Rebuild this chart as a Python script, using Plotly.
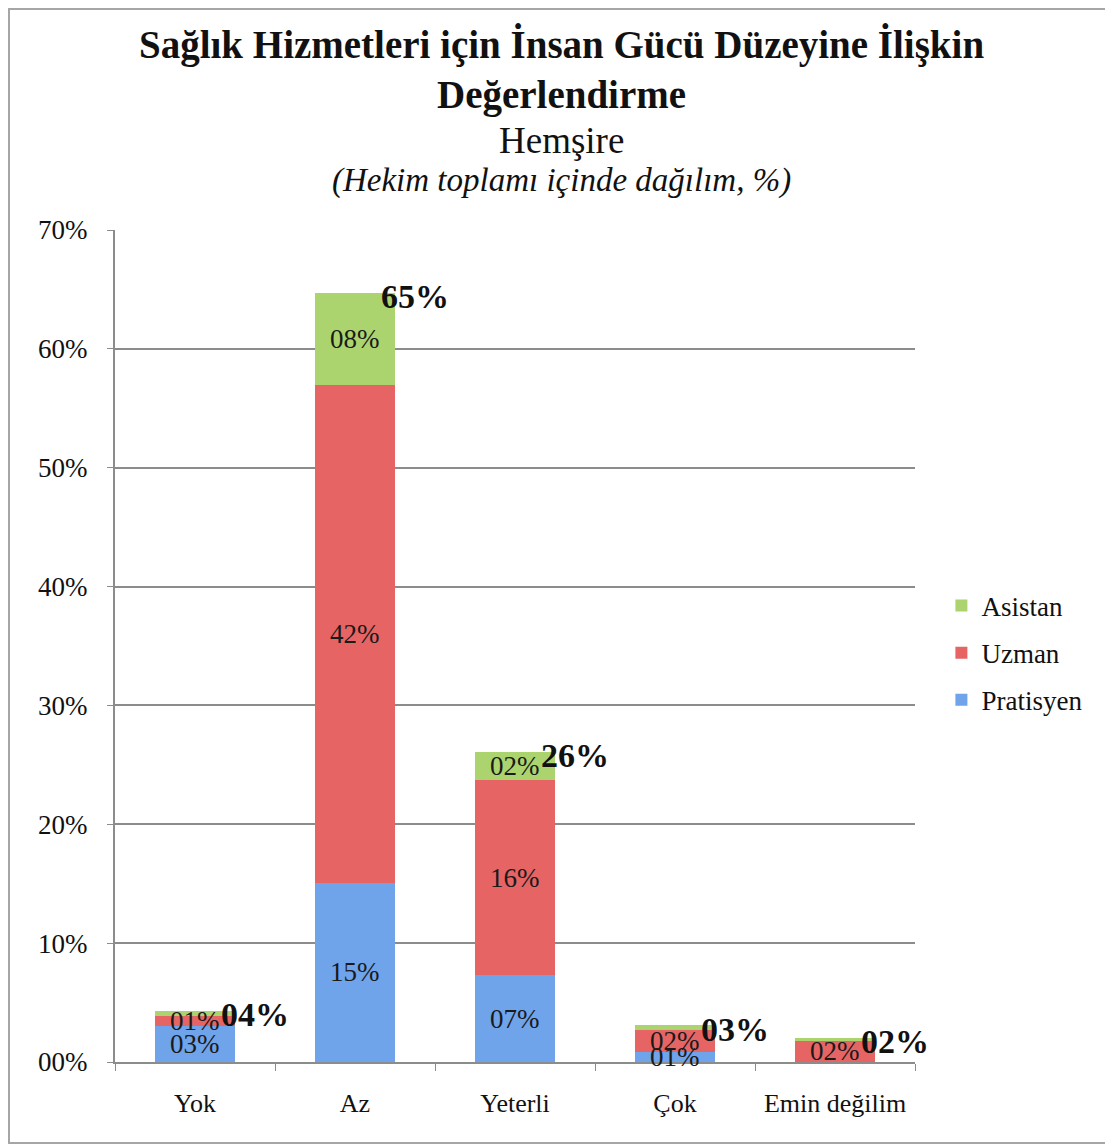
import plotly.graph_objects as go

# Kategoriler ve seriler (% değerleri)
categories = ['Yok', 'Az', 'Yeterli', 'Çok', 'Emin değilim']
pratisyen = [3.0, 15.1, 7.3, 0.8, 0.0]
uzman = [0.9, 41.9, 16.4, 1.9, 1.8]
asistan = [0.4, 7.7, 2.4, 0.4, 0.25]
totals = [4, 65, 26, 3, 2]

y_ticks = [0, 10, 20, 30, 40, 50, 60, 70]
y_ticktext = [f'{v:02d}%' for v in y_ticks]

FONT = 'Liberation Serif'
series = [
    ('Pratisyen', pratisyen, '#6fa3ea'),
    ('Uzman', uzman, '#e66464'),
    ('Asistan', asistan, '#acd46e'),
]

fig = go.Figure()
for k, (name, vals, color) in enumerate(series):
    fig.add_trace(go.Bar(
        name=name, x=categories, y=vals,
        marker=dict(color=color, line=dict(width=0)),
        legendgroup=name,
        legendrank=1000 - k,  # Asistan üstte
        hoverinfo='x+y+name',
    ))

# Segment etiketleri (segment ortasına)
base = [0] * len(categories)
for name, vals, color in series:
    for i, v in enumerate(vals):
        if v >= 0.5:
            fig.add_annotation(
                x=categories[i], y=base[i] + v / 2,
                text=f'{round(v):02d}%', showarrow=False,
                font=dict(family=FONT, size=27, color='#1a1a1a'),
            )
        base[i] += v

# Toplam etiketleri
for i, t in enumerate(totals):
    fig.add_annotation(
        x=categories[i], y=base[i], text=f'<b>{t:02d}%</b>',
        showarrow=False, xanchor='left', yanchor='middle',
        xshift=24, yshift=-4,
        font=dict(family=FONT, size=34, color='#111111'),
    )

# Başlıklar
titles = [
    ('<b>Sağlık Hizmetleri için İnsan Gücü Düzeyine İlişkin</b>', 1.2224, 39),
    ('<b>Değerlendirme</b>', 1.1623, 39),
    ('Hemşire', 1.108, 37),
    ('<i>(Hekim toplamı içinde dağılım, %)</i>', 1.060, 33),
]
for text, y, size in titles:
    fig.add_annotation(
        x=0.5575, y=y, xref='paper', yref='paper', text=text,
        showarrow=False, xanchor='center', yanchor='middle',
        font=dict(family=FONT, size=size, color='#111111'),
    )

# Dış çerçeve
fig.add_shape(
    type='rect', xref='paper', yref='paper',
    x0=-0.1325, x1=1.2437, y0=-0.0974, y1=1.2656,
    line=dict(color='#a6a6a6', width=2), fillcolor='rgba(0,0,0,0)',
)

fig.update_layout(
    barmode='stack',
    bargap=0.5,
    width=1105, height=1139,
    margin=dict(l=107, r=198, t=222, b=85),
    paper_bgcolor='white', plot_bgcolor='white',
    font=dict(family=FONT, size=27, color='#111111'),
    showlegend=True,
    legend=dict(
        x=1.033, y=0.4916, xanchor='left', yanchor='middle',
        traceorder='grouped', tracegroupgap=9,
        font=dict(family=FONT, size=27, color='#111111'),
        itemwidth=30,
    ),
    xaxis=dict(
        range=[-0.5, 4.5],
        showline=True, linecolor='#8c8c8c', linewidth=2,
        ticks='outside', tickson='boundaries', ticklen=7,
        tickcolor='#8c8c8c', ticklabelstandoff=17,
        showgrid=False,
        tickfont=dict(family=FONT, size=26, color='#111111'),
    ),
    yaxis=dict(
        range=[0, 70], tickvals=y_ticks, ticktext=y_ticktext,
        showline=True, linecolor='#8c8c8c', linewidth=2,
        ticks='outside', ticklen=6, tickcolor='#8c8c8c',
        ticklabelstandoff=14,
        showgrid=True, gridcolor='#8c8c8c', gridwidth=1.5,
        zeroline=False,
        tickfont=dict(family=FONT, size=27, color='#111111'),
    ),
)

fig.write_html('out.html')
